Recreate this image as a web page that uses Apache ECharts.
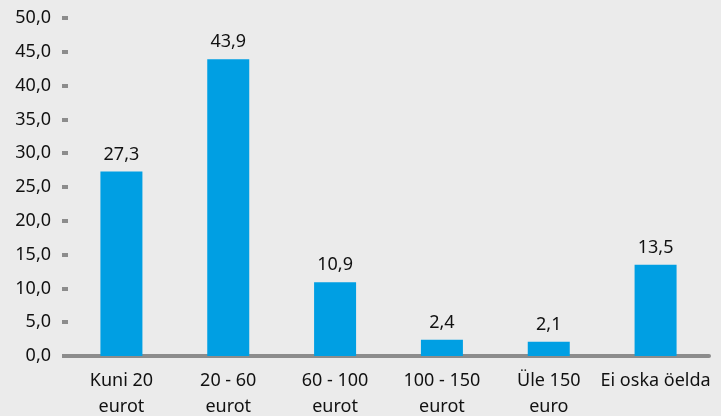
<!DOCTYPE html>
<html>
<head>
<meta charset="utf-8">
<script src="https://cdn.jsdelivr.net/npm/echarts@6/dist/echarts.min.js"></script>
<style>
  html, body { margin: 0; padding: 0; background: #ebebeb; }
  #charts_main { width: 721px; height: 416px; }
</style>
</head>
<body>
<div id="charts_main"></div>
<script>
const categories = ['Kuni 20\neurot', '20 - 60\neurot', '60 - 100\neurot', '100 - 150\neurot', 'Üle 150\neuro', 'Ei oska öelda'];
const values = [27.3, 43.9, 10.9, 2.4, 2.1, 13.5];

const fmt = v => v.toFixed(1).replace('.', ',');

let Chart = echarts.init(document.getElementById('charts_main'));

let option = {
  backgroundColor: '#ebebeb',
  textStyle: { fontFamily: 'Noto Sans' },
  grid: { left: 68, right: 12, top: 18, bottom: 60, containLabel: false, outerBoundsMode: 'none' },
  xAxis: {
    type: 'category',
    data: categories,
    axisLine: { lineStyle: { color: '#8c8c8c', width: 4 } },
    axisTick: { show: false },
    axisLabel: { color: '#111', fontSize: 18, lineHeight: 26, margin: 12, interval: 0 }
  },
  yAxis: {
    type: 'value',
    min: 0,
    max: 50,
    interval: 5,
    splitLine: { show: false },
    axisLine: { show: false },
    axisTick: { show: true, length: 6, lineStyle: { color: '#8c8c8c', width: 4 } },
    axisLabel: { color: '#111', fontSize: 18, margin: 17, formatter: v => fmt(v) }
  },
  series: [
    {
      type: 'bar',
      data: values,
      barWidth: 42,
      itemStyle: { color: '#009fe3' },
      label: {
        show: true,
        position: 'top',
        distance: 8,
        color: '#111',
        fontSize: 18,
        formatter: p => fmt(p.value)
      }
    }
  ]
};

Chart.setOption(option);
</script>
</body>
</html>
